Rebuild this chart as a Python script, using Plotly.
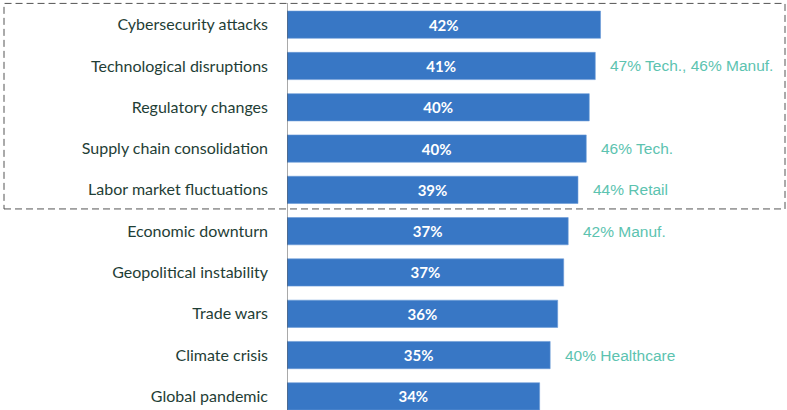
import plotly.graph_objects as go

categories = ["Cybersecurity attacks", "Technological disruptions", "Regulatory changes",
              "Supply chain consolidation", "Labor market fluctuations", "Economic downturn",
              "Geopolitical instability", "Trade wars", "Climate crisis", "Global pandemic"]
values = [41.7, 41.0, 40.2, 39.8, 38.7, 37.4, 36.8, 36.0, 35.0, 33.6]
value_labels = ["42%", "41%", "40%", "40%", "39%", "37%", "37%", "36%", "35%", "34%"]
side_notes = ["", "47% Tech., 46% Manuf.", "", "46% Tech.", "44% Retail",
              "42% Manuf.", "", "", "40% Healthcare", ""]

BAR = "#3877C5"
LABEL = "#1F3E36"
TEAL = "#5CC3B0"

fig = go.Figure()
fig.add_trace(go.Bar(
    y=categories, x=values, orientation="h",
    marker=dict(color=BAR, line=dict(color="#6a9ad6", width=0.6)),
    text=value_labels, textposition="inside", insidetextanchor="middle",
    textfont=dict(family="Lato", size=15, color="white", weight="bold"),
    hoverinfo="skip", width=0.66, cliponaxis=False,
))

for cat, v, note in zip(categories, values, side_notes):
    if note:
        fig.add_annotation(x=v, y=cat, text=note, showarrow=False, xanchor="left",
                           xshift=13, font=dict(family="Liberation Sans", size=15.5, color=TEAL))

# dashed highlight box around the top five categories (paper coordinates)
fig.add_shape(type="rect", xref="paper", yref="paper", x0=-0.566, x1=0.996, y0=0.494, y1=0.999,
              line=dict(color="#555555", width=1, dash="7px,4px"), layer="above")

fig.update_layout(
    width=787, height=410,
    margin=dict(l=287, r=0, t=3, b=0, autoexpand=False),
    paper_bgcolor="white", plot_bgcolor="white",
    showlegend=False,
    xaxis=dict(range=[0, 66.5], visible=False, automargin=False),
    yaxis=dict(range=[9.33, -0.525], showgrid=False, zeroline=False, automargin=False,
               showline=False, ticks="", ticklabelstandoff=18,
               tickfont=dict(family="Lato", size=16, color=LABEL)),
)
fig.add_shape(type="line", xref="x", yref="paper", x0=0, x1=0, y0=0, y1=1,
              line=dict(color="#555555", width=1))

fig.write_html("out.html", config={"displayModeBar": False},
               post_script="document.body.style.margin='0';document.body.style.overflow='hidden';")
